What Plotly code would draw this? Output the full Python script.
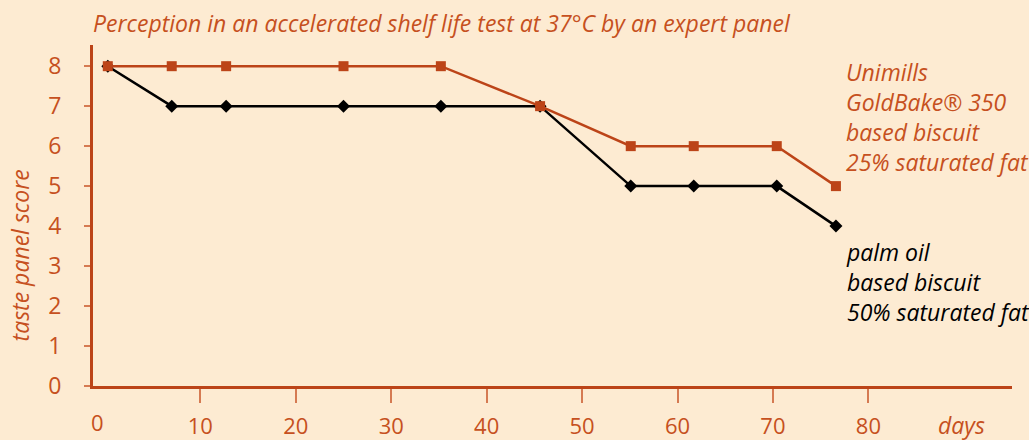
import plotly.graph_objects as go

days = [0.3, 7.0, 12.7, 25.0, 35.2, 45.6, 55.1, 61.7, 70.4, 76.6]
unimills = [8, 8, 8, 8, 8, 7, 6, 6, 6, 5]
palm_oil = [8, 7, 7, 7, 7, 7, 5, 5, 5, 4]
x_ticks = [10, 20, 30, 40, 50, 60, 70, 80]
y_ticks = [0, 1, 2, 3, 4, 5, 6, 7, 8]

ORANGE = "#BC4418"
TEXT = "#C65020"
TICK = "#D57A52"
BG = "#FDEBD2"
FONT = "Open Sans"
FS = 23
XFS = 22

fig = go.Figure()
fig.add_trace(go.Scatter(x=days, y=palm_oil, mode="lines+markers",
                         line=dict(color="black", width=2.5),
                         marker=dict(symbol="diamond", size=10, color="black"),
                         showlegend=False))
fig.add_trace(go.Scatter(x=days, y=unimills, mode="lines+markers",
                         line=dict(color=ORANGE, width=2.5),
                         marker=dict(symbol="square", size=10, color=ORANGE),
                         showlegend=False))

fig.update_layout(
    width=1029, height=440,
    paper_bgcolor=BG, plot_bgcolor=BG,
    margin=dict(l=93, r=17, t=45, b=54, autoexpand=False),
    font=dict(family=FONT, color=TEXT, size=FS),
    xaxis=dict(range=[-1.25, 95.05], tickvals=x_ticks, showgrid=False, zeroline=False,
               showline=True, linecolor=ORANGE, linewidth=3, automargin=False,
               ticks="outside", ticklen=14, tickwidth=1.5, tickcolor=TICK,
               ticklabelstandoff=5, tickfont=dict(size=XFS, color=TEXT)),
    yaxis=dict(range=[0, 8.53], tickvals=y_ticks, showgrid=False, zeroline=False,
               showline=True, linecolor=ORANGE, linewidth=3, automargin=False,
               ticks="outside", ticklen=6, tickwidth=1.5, tickcolor=TICK,
               ticklabelstandoff=18, tickfont=dict(size=FS, color=TEXT)),
)

ann = []
ann.append(dict(text="<i>Perception in an accelerated shelf life test at 37°C by an expert panel</i>",
                xref="paper", yref="paper", x=0, y=1, xanchor="left", yanchor="bottom",
                yshift=4, xshift=-2, showarrow=False, font=dict(size=FS, color=TEXT)))
ann.append(dict(text="<i>taste panel score</i>", xref="paper", yref="paper",
                x=0, y=0.383, xshift=-91, textangle=-90, showarrow=False,
                font=dict(size=FS, color=TEXT)))
ann.append(dict(text="0", xref="paper", yref="paper", x=0, y=0, xshift=4, yshift=-53,
                xanchor="center", showarrow=False, font=dict(size=XFS, color=TEXT)))
ann.append(dict(text="<i>days</i>", xref="paper", yref="paper", x=0.917, y=0, yshift=-57,
                xanchor="left", showarrow=False, font=dict(size=FS, color=TEXT)))
ann.append(dict(text="<i>Unimills<br>GoldBake® 350<br>based biscuit<br>25% saturated fat</i>",
                xref="paper", yref="paper", x=0.8175, y=1.07, yshift=-33,
                xanchor="left", yanchor="top",
                align="left", showarrow=False, font=dict(size=FS, color=TEXT)))
ann.append(dict(text="<i>palm oil<br>based biscuit<br>50% saturated fat</i>",
                xref="paper", yref="paper", x=0.8175, y=0.445, xanchor="left", yanchor="top",
                align="left", showarrow=False, font=dict(size=FS, color="black")))
fig.update_layout(annotations=ann)

fig.write_html("out.html", config={"displayModeBar": False},
               post_script="document.body.style.margin='0';")
